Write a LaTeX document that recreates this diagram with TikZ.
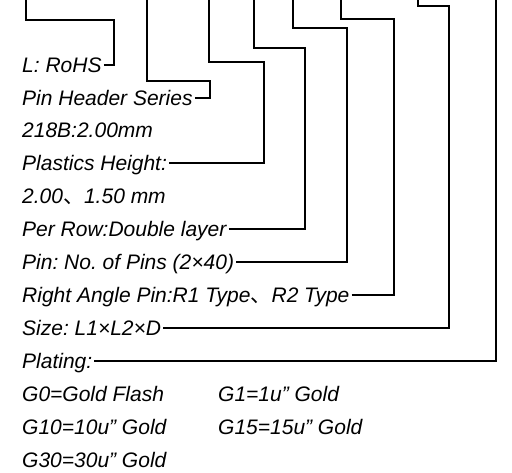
\documentclass[tikz,border=0pt]{standalone}
\usepackage{fontspec}
\setmainfont{Liberation Sans}
\newfontfamily\cjk{Noto Sans CJK SC}
\usetikzlibrary{positioning}
\frenchspacing
\definecolor{ink}{HTML}{000000}
\tikzset{
  spec/.style={anchor=base west,inner xsep=2pt,inner ysep=0pt,text height=14pt,text depth=0pt,font=\fontsize{21}{25}\selectfont\itshape,text=ink},
  lead/.style={line width=1.4pt,draw=ink}
}

\begin{document}
\begin{tikzpicture}[x=1pt,y=-1pt]
    \useasboundingbox (0,0) rectangle (512,472);

    % top ends of the leaders
    \coordinate (rohstop) at (26,0);
    \coordinate (seriestop) at (147,0);
    \coordinate (heighttop) at (209,0);
    \coordinate (rowtop) at (254,0);
    \coordinate (pinstop) at (293,0);
    \coordinate (angletop) at (341,0);
    \coordinate (sizetop) at (418,0);
    \coordinate (platingtop) at (496,0);

    \node[spec] (rohs) at (20,72) {L: RoHS};
    \node[spec] (series) at (20,105) {Pin Header Series};
    \node[spec] (pitch) at (20,137) {218B:2.00mm};
    \node[spec] (height) at (20,170) {Plastics Height:};
    \node[spec] (heightval) at (20,203) {2.00{\cjk 、}1.50 mm};
    \node[spec] (row) at (20,236) {Per Row:Double layer};
    \node[spec] (pins) at (20,269) {Pin: No. of Pins (2×40)};
    \node[spec] (angle) at (20,302) {Right Angle Pin:R1 Type{\cjk 、}R2 Type};
    \node[spec] (size) at (20,335) {Size: L1×L2×D};
    \node[spec] (plating) at (20,368) {Plating:};
    \node[spec] (gzero) at (20,401) {G0=Gold Flash};
    \node[spec] (gone) at (216,401) {G1=1u" Gold};
    \node[spec] (gten) at (20,434) {G10=10u" Gold};
    \node[spec] (gfifteen) at (216,434) {G15=15u" Gold};
    \node[spec] (gthirty) at (20,467) {G30=30u" Gold};

    \draw[lead] (rohs.east) -| (114,20) -| (rohstop);
    \draw[lead] (series.east) -| (210,81) -| (seriestop);
    \draw[lead] (height.east) -| (264,62) -| (heighttop);
    \draw[lead] (row.east) -| (305,48) -| (rowtop);
    \draw[lead] (pins.east) -| (347,28) -| (pinstop);
    \draw[lead] (angle.east) -| (394,19) -| (angletop);
    \draw[lead] (size.east) -| (449,6) -| (sizetop);
    \draw[lead] (plating.east) -| (platingtop);
\end{tikzpicture}
\end{document}
